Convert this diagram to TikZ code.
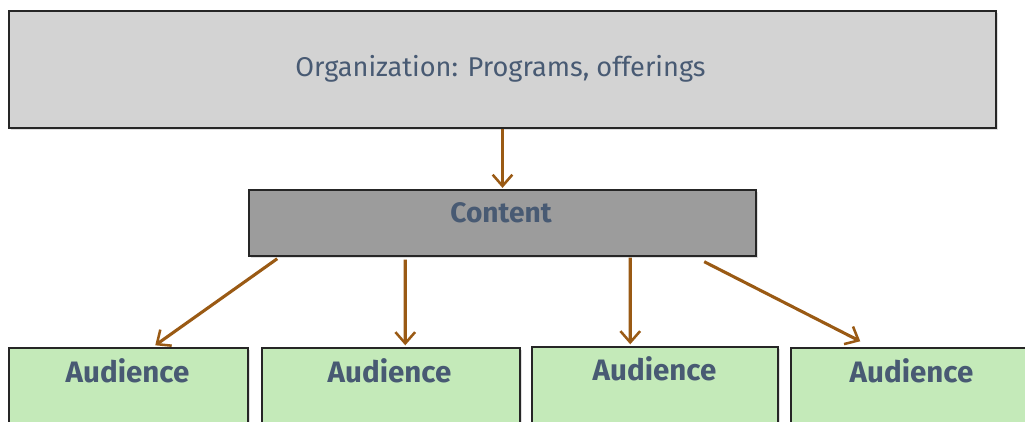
\documentclass[tikz,border=0pt]{standalone}
\usepackage{fontspec}
\setmainfont{Fira Sans}
\usetikzlibrary{arrows.meta,positioning,calc,shadows}
\definecolor{labelblue}{HTML}{485A73}
\definecolor{orggray}{HTML}{D3D3D3}
\definecolor{contentgray}{HTML}{9C9C9C}
\definecolor{audgreen}{HTML}{C4EAB9}
\definecolor{arrowbrown}{HTML}{9A5A14}

\begin{document}
\begin{tikzpicture}[x=0.025cm, y=-0.025cm,
    box/.style={draw=black!85, line width=1pt, inner sep=0pt,
                drop shadow={shadow xshift=1.2pt, shadow yshift=-1.2pt, opacity=0.25}},
    orgbox/.style={box, fill=orggray, minimum width=24.675cm, minimum height=2.925cm},
    contentbox/.style={box, fill=contentgray, minimum width=12.675cm, minimum height=1.65cm},
    audbox/.style={box, fill=audgreen, minimum height=2.3cm},
    txt/.style={text=labelblue, font=\fontsize{19.3}{22}\selectfont},
    btxt/.style={txt, font=\fontsize{21}{24}\selectfont\bfseries},
    arr/.style={-{Straight Barb[length=8pt, width=14pt, line width=1.8pt]},
                draw=arrowbrown, line width=2.2pt}
  ]
    \useasboundingbox (0,0) rectangle (1025,421);

    \node[orgbox]     (org)     at (502.5,69.5) {};
    \node[contentbox] (content) at (502.5,223)  {};
    \node[audbox, minimum width=5.975cm] (aud1) at (128.5,394) {};
    \node[audbox, minimum width=6.45cm]  (aud2) at (391,394)   {};
    \node[audbox, minimum width=6.15cm]  (aud3) at (655,393)   {};
    \node[audbox, minimum width=6.225cm] (aud4) at (915.5,394) {};

    \node[txt]  (orglabel)     at (500.5,69)                          {Organization: Programs, offerings};
    \node[btxt, font=\fontsize{20}{23}\selectfont\bfseries] (contentlabel) at (501,213) {Content};
    \node[btxt] (aud1label)    at (127.5,371)        {Audience};
    \node[btxt] (aud2label)    at (389.5,371)        {Audience};
    \node[btxt] (aud3label)    at (654.5,369)        {Audience};
    \node[btxt] (aud4label)    at (911.5,371)        {Audience};

    \draw[arr] (org.south) -- ([yshift=1pt]content.north);
    \draw[arr] ($(content.south west)+(29,2)$)  -- ($(aud1.north west)+(147,-2)$);
    \draw[arr] ($(content.south west)+(157,3)$) -- ($(aud2.north west)+(144,-2)$);
    \draw[arr] ($(content.south west)+(382,1)$) -- ($(aud3.north west)+(99,-2)$);
    \draw[arr] ($(content.south west)+(456,5)$) -- ($(aud4.north west)+(70,-6)$);
  \end{tikzpicture}
\end{document}
